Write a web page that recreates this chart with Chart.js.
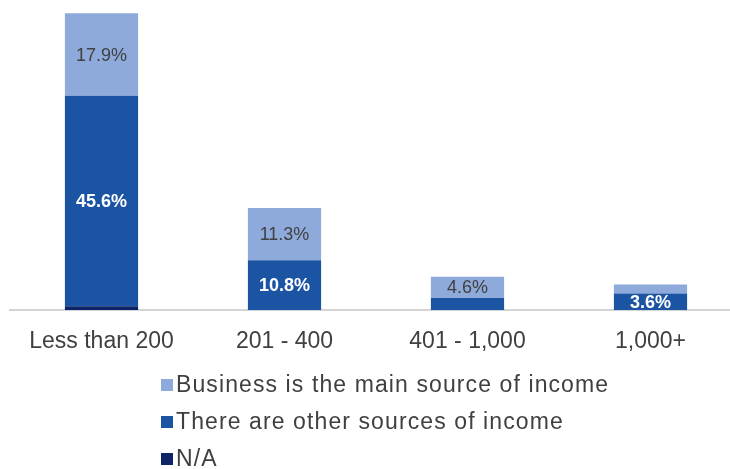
<!DOCTYPE html>
<html>
<head>
<meta charset="utf-8">
<script src="https://cdn.jsdelivr.net/npm/chart.js@4.4.1/dist/chart.umd.min.js"></script>
<style>
  html, body { margin: 0; padding: 0; background: #fff; overflow: hidden; }
  #wrap { position: relative; width: 730px; height: 469px; overflow: hidden; }
  #chart { position: absolute; left: 0; top: 0; }
  #legend {
    position: absolute; left: 161px; top: 366px;
    font-family: "Liberation Sans", Arial, sans-serif;
    font-size: 23px; color: #404040; letter-spacing: 1.1px;
  }
  .legend-item { display: flex; align-items: center; height: 37px; }
  .legend-box { width: 12px; height: 12px; margin-right: 3px; flex: none; }
</style>
</head>
<body>
<div id="wrap">
  <canvas id="chart" width="752" height="469"></canvas>
  <div id="legend"></div>
</div>
<script>
// Data (percent of respondents)
const categories = ["Less than 200", "201 - 400", "401 - 1,000", "1,000+"];
const mainIncome = [17.9, 11.3, 4.6, 1.9];
const otherIncome = [45.6, 10.8, 2.6, 3.6];
const notAnswered = [0.8, 0, 0, 0];

// which segments carry a printed value
const showMain = [true, true, true, false];
const showOther = [true, true, false, true];
const showNA = [false, false, false, false];

const seriesNames = [
  "Business is the main source of income",
  "There are other sources of income",
  "N/A"
];
const colors = {
  main: "#8eaadb",
  other: "#1c54a4",
  na: "#0d2566"
};

const labelFont = "\"Liberation Sans\", Arial, sans-serif";

// Value labels drawn inside the bars (clipped to the plot area)
const segmentLabels = {
  id: "segmentLabels",
  afterDatasetsDraw(chart) {
    const ctx = chart.ctx;
    const area = chart.chartArea;
    ctx.save();
    ctx.beginPath();
    ctx.rect(area.left, area.top, area.right - area.left, area.bottom - area.top - 1);
    ctx.clip();
    ctx.textAlign = "center";
    ctx.textBaseline = "middle";
    chart.data.datasets.forEach((ds, di) => {
      const meta = chart.getDatasetMeta(di);
      meta.data.forEach((bar, i) => {
        if (!ds.showLabel[i]) return;
        const y = (bar.y + bar.base) / 2;
        ctx.font = ds.labelBold ? "bold 18px " + labelFont : "18px " + labelFont;
        ctx.fillStyle = ds.labelColor;
        ctx.fillText(ds.data[i].toFixed(1) + "%", bar.x, y + 1);
      });
    });
    ctx.restore();
  }
};

const chart = new Chart(document.getElementById("chart"), {
  type: "bar",
  data: {
    labels: categories,
    datasets: [
      {
        label: seriesNames[2],
        data: notAnswered,
        backgroundColor: colors.na,
        showLabel: showNA,
        labelColor: "#ffffff",
        labelBold: true
      },
      {
        label: seriesNames[1],
        data: otherIncome,
        backgroundColor: colors.other,
        showLabel: showOther,
        labelColor: "#ffffff",
        labelBold: true
      },
      {
        label: seriesNames[0],
        data: mainIncome,
        backgroundColor: colors.main,
        showLabel: showMain,
        labelColor: "#404040",
        labelBold: false
      }
    ]
  },
  options: {
    responsive: false,
    animation: false,
    layout: { padding: { left: 10, right: 10, top: 10, bottom: 0 } },
    datasets: {
      bar: { barPercentage: 0.4, categoryPercentage: 1, borderWidth: 0 }
    },
    plugins: {
      legend: { display: false },
      tooltip: { enabled: false }
    },
    scales: {
      x: {
        stacked: true,
        grid: { display: false, drawTicks: false },
        border: { display: true, color: "#d4d4d4", width: 2 },
        ticks: {
          color: "#404040",
          font: { family: labelFont, size: 23 },
          padding: 18,
          maxRotation: 0,
          autoSkip: false
        },
        afterFit(scale) { scale.height = 159; }
      },
      y: {
        stacked: true,
        display: false,
        min: 0,
        max: 65
      }
    }
  },
  plugins: [segmentLabels]
});

// Legend as a vertical list, same order as the reference
const legendEl = document.getElementById("legend");
[
  [seriesNames[0], colors.main],
  [seriesNames[1], colors.other],
  [seriesNames[2], colors.na]
].forEach(([name, color]) => {
  const row = document.createElement("div");
  row.className = "legend-item";
  row.innerHTML = `<span class="legend-box" style="background:${color}"></span><span>${name}</span>`;
  legendEl.appendChild(row);
});
</script>
</body>
</html>
